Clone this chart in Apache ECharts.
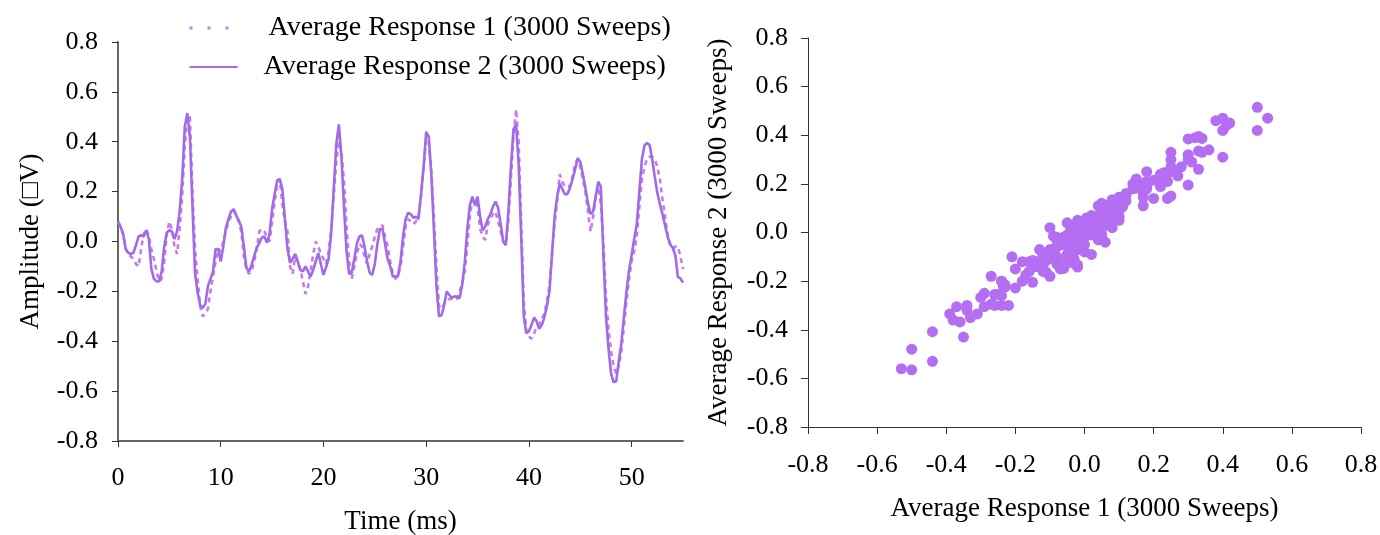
<!DOCTYPE html>
<html>
<head>
<meta charset="utf-8">
<script src="https://cdn.jsdelivr.net/npm/echarts@6/dist/echarts.min.js"></script>
<style>
html,body{margin:0;padding:0;background:#fff;}
#chart{width:1380px;height:535px;}
</style>
</head>
<body>
<div id="chart"></div>
<script>
// Time axis (ms)
const timeMs = [
0,0.25,0.5,0.75,1,1.25,1.5,1.75,2,2.25,2.5,2.75,3,3.25,3.5,3.75,4,4.25,4.5,4.75,5,5.25,5.5,5.75,
6,6.25,6.5,6.75,7,7.25,7.5,7.75,8,8.25,8.5,8.75,9,9.25,9.5,9.75,10,10.25,10.5,10.75,11,11.25,11.5,11.75,
12,12.25,12.5,12.75,13,13.25,13.5,13.75,14,14.25,14.5,14.75,15,15.25,15.5,15.75,16,16.25,16.5,16.75,17,17.25,17.5,17.75,
18,18.25,18.5,18.75,19,19.25,19.5,19.75,20,20.25,20.5,20.75,21,21.25,21.5,21.75,22,22.25,22.5,22.75,23,23.25,23.5,23.75,
24,24.25,24.5,24.75,25,25.25,25.5,25.75,26,26.25,26.5,26.75,27,27.25,27.5,27.75,28,28.25,28.5,28.75,29,29.25,29.5,29.75,
30,30.25,30.5,30.75,31,31.25,31.5,31.75,32,32.25,32.5,32.75,33,33.25,33.5,33.75,34,34.25,34.5,34.75,35,35.25,35.5,35.75,
36,36.25,36.5,36.75,37,37.25,37.5,37.75,38,38.25,38.5,38.75,39,39.25,39.5,39.75,40,40.25,40.5,40.75,41,41.25,41.5,41.75,
42,42.25,42.5,42.75,43,43.25,43.5,43.75,44,44.25,44.5,44.75,45,45.25,45.5,45.75,46,46.25,46.5,46.75,47,47.25,47.5,47.75,
48,48.25,48.5,48.75,49,49.25,49.5,49.75,50,50.25,50.5,50.75,51,51.25,51.5,51.75,52,52.25,52.5,52.75,53,53.25,53.5,53.75,
54,54.25,54.5,54.75,55
];

// Average Response 1 (dotted)
const response1 = [
0.08,0.06,0.03,-0.03,-0.05,-0.06,-0.07,-0.09,
-0.1,-0.03,0.03,0.05,0.02,-0.03,-0.07,-0.12,
-0.16,-0.15,-0.08,0.03,0.08,0.05,-0.02,-0.05,
0.05,0.18,0.38,0.5,0.5,0.2,-0.03,-0.15,
-0.26,-0.3,-0.29,-0.27,-0.2,-0.14,-0.08,-0.03,
-0.04,0,0.04,0.08,0.1,0.12,0.11,0.08,
0.04,-0.06,-0.11,-0.13,-0.12,-0.08,-0.03,0.04,
0.05,0.04,0.02,0,0.08,0.16,0.23,0.25,
0.15,0.08,0.04,-0.1,-0.13,-0.06,-0.09,-0.11,
-0.16,-0.21,-0.18,-0.12,-0.05,0,-0.02,-0.05,
-0.07,-0.09,-0.04,0.05,0.18,0.32,0.4,0.36,
0.24,0.06,-0.08,-0.15,-0.1,-0.05,-0.01,-0.02,
-0.06,-0.09,-0.05,-0.02,0.02,0.05,0.06,0.065,
0.02,-0.02,-0.08,-0.13,-0.15,-0.14,-0.1,-0.02,
0.06,0.09,0.08,0.07,0.08,0.1,0.18,0.3,
0.41,0.4,0.28,0.1,-0.1,-0.26,-0.27,-0.25,
-0.24,-0.23,-0.23,-0.235,-0.23,-0.2,-0.17,-0.12,
-0.02,0.1,0.17,0.17,0.14,0.05,0.02,0.006,
0.07,0.09,0.11,0.12,0.08,0.04,0,-0.01,
0.08,0.25,0.42,0.53,0.4,0.08,-0.24,-0.36,
-0.38,-0.39,-0.37,-0.34,-0.33,-0.31,-0.29,-0.24,
-0.18,-0.05,0.07,0.16,0.27,0.24,0.22,0.22,
0.22,0.26,0.31,0.33,0.3,0.25,0.2,0.12,
0.04,0.1,0.18,0.22,0.15,0,-0.22,-0.35,
-0.44,-0.5,-0.53,-0.5,-0.44,-0.34,-0.24,-0.15,
-0.08,-0.04,0.02,0.14,0.25,0.3,0.33,0.34,
0.34,0.33,0.3,0.25,0.17,0.1,0.03,-0.01,
-0.03,-0.02,-0.02,-0.06,
-0.11
];

// Average Response 2 (solid)
const response2 = [
0.08,0.06,0.03,-0.03,-0.045,-0.05,-0.045,-0.015,
0.02,0.025,0.02,0.045,0.01,-0.11,-0.15,-0.16,
-0.16,-0.12,-0.02,0.035,0.045,0.04,0.01,0.04,
0.12,0.25,0.46,0.515,0.42,0.14,-0.127,-0.205,
-0.255,-0.267,-0.25,-0.18,-0.15,-0.12,-0.03,-0.03,
-0.08,-0.02,0.055,0.09,0.12,0.13,0.105,0.085,
0.06,-0.02,-0.105,-0.12,-0.095,-0.06,-0.025,-0.007,
0.015,0.02,-0.005,0.03,0.13,0.19,0.246,0.25,
0.21,0.09,-0.03,-0.085,-0.07,-0.05,-0.08,-0.115,
-0.12,-0.1,-0.12,-0.14,-0.114,-0.08,-0.047,-0.09,
-0.134,-0.105,-0.07,0.03,0.21,0.39,0.47,0.34,
0.14,-0.04,-0.13,-0.125,-0.07,-0.01,0.02,0.025,
-0.02,-0.08,-0.125,-0.134,-0.09,-0.01,0.05,0.05,
-0.01,-0.07,-0.1,-0.14,-0.14,-0.14,-0.08,0.02,
0.09,0.115,0.11,0.095,0.1,0.09,0.19,0.3,
0.44,0.42,0.27,0.05,-0.18,-0.3,-0.295,-0.255,
-0.2,-0.215,-0.225,-0.22,-0.222,-0.228,-0.175,-0.087,
0.05,0.145,0.18,0.145,0.18,0.1,0.045,0.06,
0.09,0.11,0.14,0.16,0.135,0.07,0,-0.015,
0.12,0.3,0.45,0.47,0.31,0.02,-0.3,-0.368,
-0.36,-0.335,-0.305,-0.32,-0.35,-0.335,-0.305,-0.26,
-0.2,-0.05,0.1,0.18,0.233,0.21,0.19,0.19,
0.215,0.25,0.29,0.335,0.32,0.27,0.215,0.153,
0.11,0.12,0.18,0.24,0.22,-0.05,-0.3,-0.43,
-0.53,-0.565,-0.56,-0.48,-0.408,-0.3,-0.2,-0.115,
-0.055,0.01,0.07,0.2,0.33,0.385,0.395,0.387,
0.33,0.26,0.195,0.15,0.11,0.065,0.02,-0.012,
-0.025,-0.055,-0.142,-0.148,
-0.165
];

const timeTicks = [0, 10, 20, 30, 40, 50];
const seriesNames = ['Average Response 1 (3000 Sweeps)', 'Average Response 2 (3000 Sweeps)'];
const leftYTitle = 'Amplitude (\u25A1V)';
const leftXTitle = 'Time (ms)';

const FONT = "'Liberation Serif','Times New Roman',serif";
const C1 = '#c67de9';
const C2 = '#a06be6';
const CS = '#b46ef2';

const line1 = timeMs.map((t, i) => [t, response1[i]]);
const line2 = timeMs.map((t, i) => [t, response2[i]]);
const scatterPts = response1.map((v, i) => [v, response2[i]]);

const fmt = v => v.toFixed(1);
const nameStyle = {fontSize: 27, fontFamily: FONT, color: '#000'};

const chart = echarts.init(document.getElementById('chart'), null, {renderer: 'canvas'});
chart.setOption({
  animation: false,
  textStyle: {fontFamily: FONT},
  legend: {
    orient: 'vertical',
    left: 183, top: 9,
    itemWidth: 48, itemHeight: 14, itemGap: 11,
    itemStyle: {color: 'rgba(0,0,0,0)', borderWidth: 0, opacity: 0},
    textStyle: {fontSize: 28, fontFamily: FONT, color: '#000', padding: [0, 0, 0, 26]},
    data: [
      {name: seriesNames[0], lineStyle: {type: [3, 15], width: 3}},
      {name: seriesNames[1], textStyle: {padding: [0, 0, 0, 21]}}
    ]
  },
  grid: [
    {left: 118, right: 697, top: 42, bottom: 94, outerBoundsMode: 'none'},
    {left: 808, right: 19, top: 38, bottom: 108, outerBoundsMode: 'none'}
  ],
  xAxis: [
    {
      gridIndex: 0, type: 'value', min: 0, max: 55, interval: 10,
      splitLine: {show: false},
      axisLine: {onZero: false, lineStyle: {color: '#666', width: 2}},
      axisTick: {show: true, length: 6, lineStyle: {color: '#333', width: 1}, customValues: timeTicks},
      axisLabel: {fontSize: 26, fontFamily: FONT, color: '#000', margin: 24, customValues: timeTicks},
      name: leftXTitle, nameLocation: 'middle', nameGap: 67, nameTextStyle: nameStyle
    },
    {
      gridIndex: 1, type: 'value', min: -0.8, max: 0.8, interval: 0.2,
      splitLine: {show: false},
      axisLine: {onZero: false, lineStyle: {color: '#333', width: 1}},
      axisTick: {show: true, length: 7, lineStyle: {color: '#333', width: 1}},
      axisLabel: {fontSize: 26, fontFamily: FONT, color: '#000', margin: 25, formatter: fmt},
      name: seriesNames[0], nameLocation: 'middle', nameGap: 68, nameTextStyle: nameStyle
    }
  ],
  yAxis: [
    {
      gridIndex: 0, type: 'value', min: -0.8, max: 0.8, interval: 0.2,
      splitLine: {show: false},
      axisLine: {show: true, onZero: false, lineStyle: {color: '#666', width: 2}},
      axisTick: {show: true, length: 6, lineStyle: {color: '#333', width: 1}},
      axisLabel: {fontSize: 26, fontFamily: FONT, color: '#000', margin: 20, formatter: fmt},
      name: leftYTitle, nameLocation: 'middle', nameGap: 74, nameRotate: 90, nameTextStyle: nameStyle
    },
    {
      gridIndex: 1, type: 'value', min: -0.8, max: 0.8, interval: 0.2,
      splitLine: {show: false},
      axisLine: {show: true, onZero: false, lineStyle: {color: '#333', width: 1}},
      axisTick: {show: true, length: 7, lineStyle: {color: '#333', width: 1}},
      axisLabel: {fontSize: 26, fontFamily: FONT, color: '#000', margin: 20, formatter: fmt},
      name: seriesNames[1], nameLocation: 'middle', nameGap: 76, nameRotate: 90, nameTextStyle: nameStyle
    }
  ],
  series: [
    {
      name: seriesNames[0], type: 'line', xAxisIndex: 0, yAxisIndex: 0,
      data: line1, symbol: 'none', smooth: false,
      lineStyle: {color: C1, width: 2.6, type: [5, 4]},
      itemStyle: {color: C1}, z: 2
    },
    {
      name: seriesNames[1], type: 'line', xAxisIndex: 0, yAxisIndex: 0,
      data: line2, symbol: 'none', smooth: false,
      lineStyle: {color: C2, width: 2.6},
      itemStyle: {color: C2}, z: 3
    },
    {
      name: 'scatter', type: 'scatter', xAxisIndex: 1, yAxisIndex: 1,
      data: scatterPts, symbol: 'circle', symbolSize: 11,
      itemStyle: {color: CS, opacity: 1}
    }
  ]
});
</script>
</body>
</html>
